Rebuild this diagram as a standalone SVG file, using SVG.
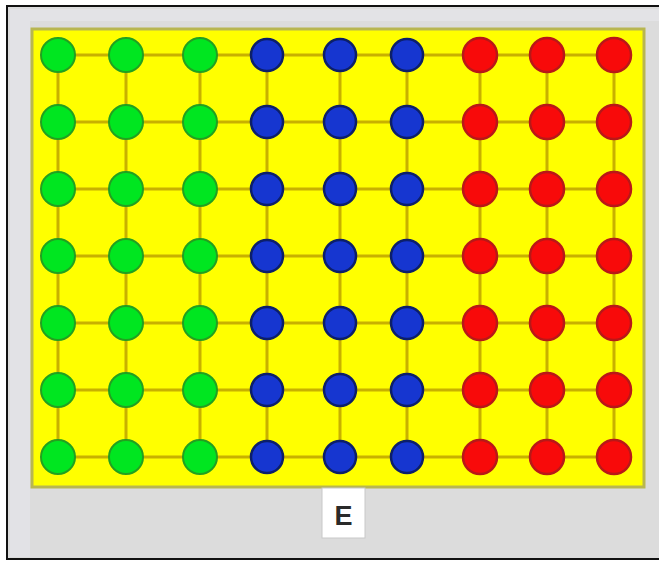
<svg xmlns="http://www.w3.org/2000/svg" width="659" height="561" viewBox="0 0 659 561">
<style>
.g{fill:#00e620;stroke:#22a020;stroke-width:2}
.b{fill:#1636d0;stroke:#0c1f6a;stroke-width:2.5}
.r{fill:#f80a0a;stroke:#b81818;stroke-width:2.5}
.e{stroke:#c8b000;stroke-width:3;fill:none}
</style>
<rect x="0" y="0" width="659" height="561" fill="#ffffff"/>
<rect x="7" y="6" width="656" height="553" fill="#dcdcdc" stroke="#111" stroke-width="2"/>
<rect x="10" y="9" width="649" height="12" fill="#e3e3e6"/>
<rect x="10" y="9" width="20" height="548" fill="#e2e2e6"/>
<rect x="32" y="29" width="612" height="458" fill="#ffff00" stroke="#b8b650" stroke-width="3"/>
<g id="connectors" class="e">
<path d="M58 55H614M58 122H614M58 189H614M58 256H614M58 323H614M58 390H614M58 457H614"/>
<path d="M58 55V457M126 55V457M200 55V457M267 55V457M340 55V457M407 55V457M480 55V457M547 55V457M614 55V457"/>
</g>
<g id="nodes">
<g id="c1"><circle class="g" cx="58" cy="55" r="17"/><circle class="g" cx="58" cy="122" r="17"/><circle class="g" cx="58" cy="189" r="17"/><circle class="g" cx="58" cy="256" r="17"/><circle class="g" cx="58" cy="323" r="17"/><circle class="g" cx="58" cy="390" r="17"/><circle class="g" cx="58" cy="457" r="17"/></g>
<g id="c2"><circle class="g" cx="126" cy="55" r="17"/><circle class="g" cx="126" cy="122" r="17"/><circle class="g" cx="126" cy="189" r="17"/><circle class="g" cx="126" cy="256" r="17"/><circle class="g" cx="126" cy="323" r="17"/><circle class="g" cx="126" cy="390" r="17"/><circle class="g" cx="126" cy="457" r="17"/></g>
<g id="c3"><circle class="g" cx="200" cy="55" r="17"/><circle class="g" cx="200" cy="122" r="17"/><circle class="g" cx="200" cy="189" r="17"/><circle class="g" cx="200" cy="256" r="17"/><circle class="g" cx="200" cy="323" r="17"/><circle class="g" cx="200" cy="390" r="17"/><circle class="g" cx="200" cy="457" r="17"/></g>
<g id="c4"><circle class="b" cx="267" cy="55" r="16"/><circle class="b" cx="267" cy="122" r="16"/><circle class="b" cx="267" cy="189" r="16"/><circle class="b" cx="267" cy="256" r="16"/><circle class="b" cx="267" cy="323" r="16"/><circle class="b" cx="267" cy="390" r="16"/><circle class="b" cx="267" cy="457" r="16"/></g>
<g id="c5"><circle class="b" cx="340" cy="55" r="16"/><circle class="b" cx="340" cy="122" r="16"/><circle class="b" cx="340" cy="189" r="16"/><circle class="b" cx="340" cy="256" r="16"/><circle class="b" cx="340" cy="323" r="16"/><circle class="b" cx="340" cy="390" r="16"/><circle class="b" cx="340" cy="457" r="16"/></g>
<g id="c6"><circle class="b" cx="407" cy="55" r="16"/><circle class="b" cx="407" cy="122" r="16"/><circle class="b" cx="407" cy="189" r="16"/><circle class="b" cx="407" cy="256" r="16"/><circle class="b" cx="407" cy="323" r="16"/><circle class="b" cx="407" cy="390" r="16"/><circle class="b" cx="407" cy="457" r="16"/></g>
<g id="c7"><circle class="r" cx="480" cy="55" r="17"/><circle class="r" cx="480" cy="122" r="17"/><circle class="r" cx="480" cy="189" r="17"/><circle class="r" cx="480" cy="256" r="17"/><circle class="r" cx="480" cy="323" r="17"/><circle class="r" cx="480" cy="390" r="17"/><circle class="r" cx="480" cy="457" r="17"/></g>
<g id="c8"><circle class="r" cx="547" cy="55" r="17"/><circle class="r" cx="547" cy="122" r="17"/><circle class="r" cx="547" cy="189" r="17"/><circle class="r" cx="547" cy="256" r="17"/><circle class="r" cx="547" cy="323" r="17"/><circle class="r" cx="547" cy="390" r="17"/><circle class="r" cx="547" cy="457" r="17"/></g>
<g id="c9"><circle class="r" cx="614" cy="55" r="17"/><circle class="r" cx="614" cy="122" r="17"/><circle class="r" cx="614" cy="189" r="17"/><circle class="r" cx="614" cy="256" r="17"/><circle class="r" cx="614" cy="323" r="17"/><circle class="r" cx="614" cy="390" r="17"/><circle class="r" cx="614" cy="457" r="17"/></g>
</g>
<g id="label">
<rect x="322" y="488" width="43" height="50" fill="#ffffff" stroke="#c8c8c8" stroke-width="1"/>
<text x="343.5" y="525" font-family="Liberation Sans, Arial, sans-serif" font-size="27" font-weight="bold" fill="#2a2a2a" text-anchor="middle">E</text>
</g>
</svg>
